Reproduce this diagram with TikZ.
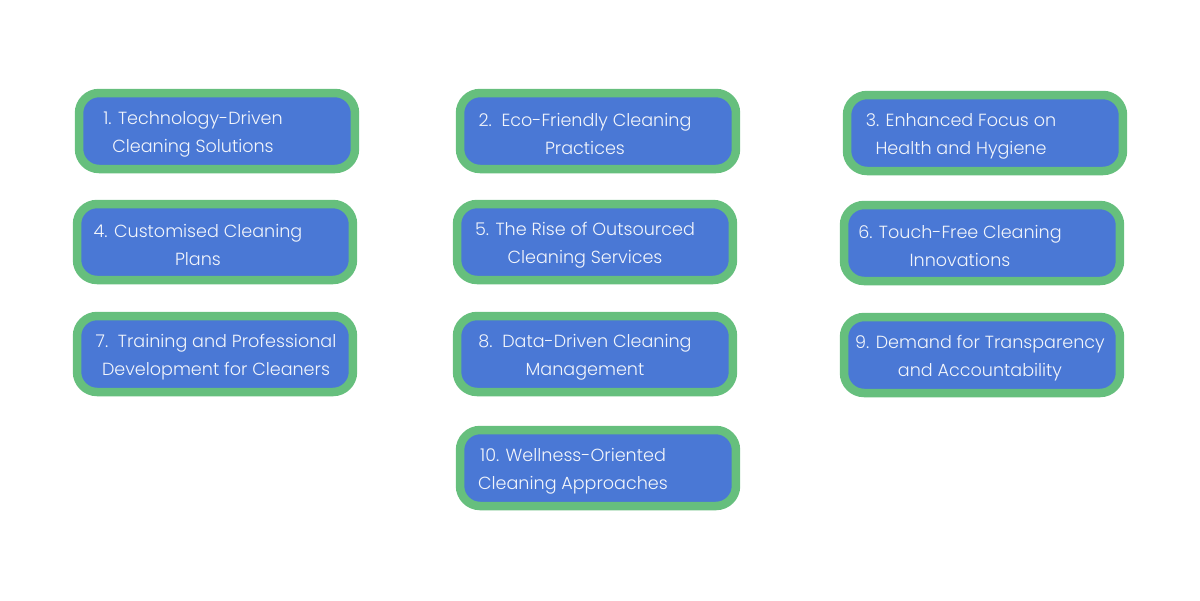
\documentclass[tikz,border=0pt]{standalone}
\usepackage{fontspec}
\setmainfont{Poppins}[UprightFont=* Light]
\usepackage{tikz}
\usetikzlibrary{positioning,calc}
\definecolor{Leaf}{HTML}{66BF7D}
\definecolor{Royal}{HTML}{4A78D5}
\definecolor{Paper}{HTML}{F2F5FB}

\begin{document}
\begin{tikzpicture}[x=0.02cm,y=-0.02cm,
    card/.style={draw=Leaf,fill=Royal,line width=0.17cm,rounded corners=0.4cm,
      minimum width=5.52cm,minimum height=1.52cm},
    cardtext/.style={text=Paper,align=center,inner sep=0pt,
      font=\fontsize{10}{16}\selectfont}
  ]
    \useasboundingbox (0,0) rectangle (1200,600);
    \foreach \n/\x/\y/\dx/\txt in {
        1/217/131/-24/{1. Technology-Driven\\Cleaning Solutions},
        2/598/131/-13/{2.\ \ Eco-Friendly Cleaning\\Practices},
        3/985/133/-24/{3. Enhanced Focus on\\Health and Hygiene},
        4/215/242/-17/{4. Customised Cleaning\\Plans},
        5/595/242/-10/{5. The Rise of Outsourced\\Cleaning Services},
        6/982/243/-22/{6. Touch-Free Cleaning\\Innovations},
        7/215/354/1/{7.\ \ Training and Professional\\Development for Cleaners},
        8/595/354/-10/{8.\ \ Data-Driven Cleaning\\Management},
        9/982/355/-2/{9. Demand for Transparency\\and Accountability},
        10/598/468/-25/{10. Wellness-Oriented\\Cleaning Approaches}}
    {
      \node[card] (b\n) at (\x,\y) {};
      \node[cardtext] (t\n) at ([xshift=\dx*0.02cm,yshift=-0.06cm]b\n.center) {\txt};
    }
  \end{tikzpicture}
\end{document}
